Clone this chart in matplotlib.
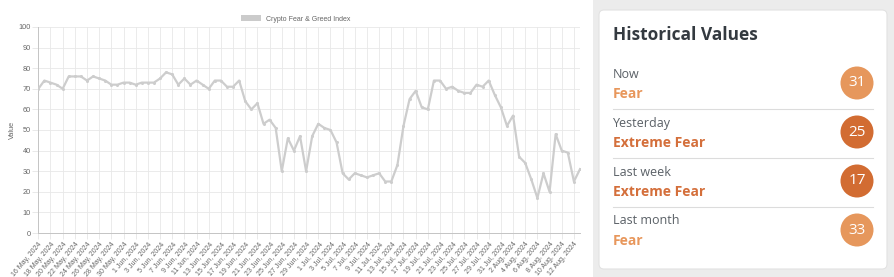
import pandas as pd
import matplotlib.pyplot as plt
from matplotlib.patches import FancyBboxPatch, Rectangle, Circle, Patch

# daily index values, 16 May 2024 -> 13 Aug 2024
values = [70, 74, 73, 72, 70, 76, 76, 76, 74, 76,
          75, 74, 72, 72, 73, 73, 72, 73, 73, 73,
          75, 78, 77, 72, 75, 72, 74, 72, 70, 74,
          74, 71, 71, 74, 64, 60, 63, 53, 55, 51,
          30, 46, 40, 47, 30, 47, 53, 51, 50, 44,
          29, 26, 29, 28, 27, 28, 29, 25, 25, 33,
          52, 65, 69, 61, 60, 74, 74, 70, 71, 69,
          68, 68, 72, 71, 74, 67, 61, 52, 57, 37,
          34, 26, 17, 29, 20, 48, 40, 39, 25, 31]
start_date = "2024-05-16"

hist_labels = ["Now", "Yesterday", "Last week", "Last month"]
hist_values = [31, 25, 17, 33]
hist_class = ["Fear", "Extreme Fear", "Extreme Fear", "Fear"]
class_circle = {"Fear": "#e6975c", "Extreme Fear": "#d26c32"}
class_text = {"Fear": "#e8975c", "Extreme Fear": "#d46f3b"}

dates = pd.date_range(start_date, periods=len(values), freq="D")
tick_labels = [f"{d.day} {d.strftime('%b')}, {d.year}" for d in dates]

W, H = 895, 277
fig = plt.figure(figsize=(W / 100, H / 100), dpi=100)
fig.patch.set_facecolor("white")

# ---- right panel (drawn in pixel coords) ----
pan = fig.add_axes([0, 0, 1, 1])
pan.set_xlim(0, W)
pan.set_ylim(H, 0)
pan.axis("off")
pan.add_patch(Rectangle((593, 0), W - 593, H, facecolor="#ececec", edgecolor="none"))
pan.add_patch(FancyBboxPatch((599, 10), 288, 259, boxstyle="round,pad=0,rounding_size=5",
                             facecolor="white", edgecolor="#e2e2e2", linewidth=0.8))
pan.text(613, 35, "Historical Values", fontsize=12.5, fontweight="bold", color="#343a40",
         family="Open Sans", va="center", ha="left")

row_top = 74
row_h = 49
for i, (lab, val, cls) in enumerate(zip(hist_labels, hist_values, hist_class)):
    y = row_top + i * row_h
    pan.text(613, y, lab, fontsize=9, color="#5a6066", family="Open Sans", va="center")
    pan.text(613, y + 20, cls, fontsize=10, fontweight="bold", color=class_text[cls],
             family="Open Sans", va="center")
    cy = y + 9
    pan.add_patch(Circle((857, cy), 16.5, facecolor=class_circle[cls], edgecolor="none"))
    pan.text(857, cy, str(val), fontsize=11, color="white", family="Open Sans",
             ha="center", va="center")
    if i < len(hist_labels) - 1:
        pan.plot([613, 873], [y + 35, y + 35], color="#dcdcdc", linewidth=0.8)

# ---- line chart ----
ax = fig.add_axes([38.3 / W, 1 - 233 / H, (580 - 38.3) / W, (233 - 27) / H])
x = list(range(len(values)))
ax.plot(x, values, color="#cdcdcd", linewidth=1.6, marker="o", markersize=2.2,
        markeredgewidth=0, zorder=3)
ax.set_xlim(0, len(values) - 1)
ax.set_ylim(0, 100)
ax.set_yticks(range(0, 101, 10))
ax.set_xticks(x[::2])
ax.set_xticklabels(tick_labels[::2], rotation=50, ha="right", rotation_mode="anchor",
                   fontsize=5, color="#666666", family="Liberation Sans")
for t in ax.get_yticklabels():
    t.set_fontsize(5.3)
    t.set_color("#666666")
    t.set_family("Liberation Sans")
ax.tick_params(axis="both", length=4, width=0.6, color="#e5e5e5", pad=1.5)
ax.grid(True, color="#e8e8e8", linewidth=0.6)
ax.set_axisbelow(True)
for s in ["top", "right"]:
    ax.spines[s].set_visible(False)
for s in ["left", "bottom"]:
    ax.spines[s].set_color("#c4c4c4")
    ax.spines[s].set_linewidth(0.7)
ax.set_ylabel("Value", fontsize=5.3, color="#666666", family="Liberation Sans", labelpad=2)

handle = Patch(facecolor="#cbcbcb", edgecolor="none", label="Crypto Fear & Greed Index")
fig.legend(handles=[handle], loc="center", bbox_to_anchor=(296 / W, 1 - 19 / H),
           frameon=False, prop={"size": 5, "family": "Liberation Sans"},
           labelcolor="#666666", handlelength=2.8, handleheight=1.0, handletextpad=0.8)

fig.savefig("out.png", dpi=100)
